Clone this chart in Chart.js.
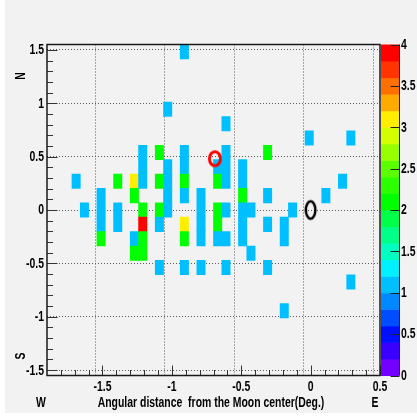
<!DOCTYPE html>
<html>
<head>
<meta charset="utf-8">
<script src="https://cdn.jsdelivr.net/npm/chart.js@4.4.1/dist/chart.umd.min.js"></script>
<style>
  html, body { margin: 0; padding: 0; background: #ffffff; }
  #moonChart { display: block; }
</style>
</head>
<body>
<canvas id="moonChart" width="417" height="416"></canvas>
<script>
// histogram binning (same as the TH2 it came from)
const xLow = -1.9, xUp = 0.5, nBinsX = 40;
const yLow = -1.55, yUp = 1.55, nBinsY = 23;

// filled bins: x bin number, y bin number (1-based) and content
const binX = [4, 5, 7, 7, 7, 7, 9, 9, 9, 11, 11, 11, 11,
    12, 12, 12, 12, 12, 12, 12, 14, 14, 14, 14, 14,
    15, 15, 15, 15, 15, 17, 17, 17, 17, 17, 17, 17, 17,
    19, 19, 19, 19, 19, 21, 21, 21, 21, 21,
    22, 22, 22, 22, 22, 22, 22, 24, 24, 24, 24, 24, 24,
    25, 25, 27, 27, 27, 27, 29, 29, 29, 30, 32, 34, 36, 37, 37];
const binY = [14, 12, 13, 12, 11, 10, 14, 12, 11, 14, 13, 10, 9,
    16, 15, 14, 12, 11, 10, 9, 16, 14, 12, 11, 8,
    19, 15, 14, 13, 12, 23, 16, 15, 14, 13, 11, 10, 8,
    13, 12, 11, 10, 8, 15, 14, 12, 11, 10,
    18, 16, 15, 14, 12, 10, 8, 15, 14, 13, 12, 11, 10,
    12, 9, 16, 13, 11, 8, 11, 10, 5, 12, 17, 13, 14, 17, 7];
const counts = [1, 1, 1, 1, 1, 2, 2, 1, 1, 3, 2, 1, 2,
    1, 1, 1, 2, 4, 2, 2, 2, 2, 2, 1, 1,
    1, 1, 1, 1, 1, 1, 1, 1, 2, 1, 3, 2, 1,
    1, 1, 1, 1, 1, 1, 2, 2, 2, 1,
    1, 1, 1, 1, 1, 1, 1, 1, 1, 2, 1, 1, 1,
    1, 1, 2, 1, 1, 1, 1, 1, 1, 1, 1, 1, 1, 1, 1];

// expected Moon position and observed shadow centre
const moonX = [0];
const moonY = [0];
const shadowX = [-0.69];
const shadowY = [0.48];

// colour palette, 20 contours from 0 to 4
const zMin = 0, zMax = 4;
const paletteColors = [
    '#7400ff', '#3a00ff', '#0010ff', '#004cff', '#0088ff',
    '#00bfff', '#00f0ff', '#00ffc0', '#00ff88', '#00ff48',
    '#00ff00', '#2cff00', '#5cff00', '#98ff00', '#d4ff00',
    '#ffee00', '#ffaa00', '#ff7000', '#ff3400', '#ff0000'
];
const zTicks = [0, 0.5, 1, 1.5, 2, 2.5, 3, 3.5, 4];

const xTitle = 'Angular distance  from the Moon center(Deg.)';

// narrow bold lettering, squeezed horizontally
const textFont = "bold 14px 'Liberation Sans', Arial, sans-serif";
const textSqueeze = 0.745;

function zColor(z) {
    const step = (zMax - zMin) / paletteColors.length;
    let k = Math.floor((z - zMin) / step + 1e-9);
    k = Math.max(0, Math.min(paletteColors.length - 1, k));
    return paletteColors[k];
}

function isMajor(v) {
    return Math.abs(v * 2 - Math.round(v * 2)) < 1e-6;
}

function tickLabel(v) {
    return String(Number(v.toFixed(1)));
}

function gridColor(c) {
    return c.tick && isMajor(c.tick.value) ? '#5a5a5a' : 'rgba(0,0,0,0)';
}

function tenths(from, to) {
    const out = [];
    for (let n = Math.round(from * 10); n <= Math.round(to * 10); n++) {
        out.push({ value: n / 10 });
    }
    return out;
}

function ringMarker(w, h, color, lineWidth) {
    const c = document.createElement('canvas');
    c.width = Math.ceil(w + lineWidth * 2);
    c.height = Math.ceil(h + lineWidth * 2);
    const g = c.getContext('2d');
    g.strokeStyle = color;
    g.lineWidth = lineWidth;
    g.beginPath();
    g.ellipse(c.width / 2, c.height / 2, (w - lineWidth) / 2, (h - lineWidth) / 2, 0, 0, Math.PI * 2);
    g.stroke();
    return c;
}

function drawText(ctx, text, x, y, align, angle) {
    ctx.save();
    ctx.translate(x, y);
    if (angle) ctx.rotate(angle);
    ctx.scale(textSqueeze, 1);
    ctx.font = textFont;
    ctx.fillStyle = '#000';
    ctx.textAlign = align;
    ctx.textBaseline = 'middle';
    ctx.fillText(text, 0, 0);
    ctx.restore();
}

const xBinWidth = (xUp - xLow) / nBinsX;
const yBinWidth = (yUp - yLow) / nBinsY;

const cells = binX.map((bx, k) => ({
    x: xLow + (bx - 0.5) * xBinWidth,
    y: [yLow + (binY[k] - 1) * yBinWidth, yLow + binY[k] * yBinWidth],
    z: counts[k]
}));

// canvas background, inner ticks, frame, palette and all lettering
const rootFrame = {
    id: 'rootFrame',
    beforeDraw(chart) {
        const ctx = chart.ctx;
        ctx.save();
        ctx.fillStyle = '#ffffff';
        ctx.fillRect(0, 0, chart.width, chart.height);
        ctx.fillStyle = '#f2f2f2';
        ctx.fillRect(5, 0, chart.width - 5, chart.height - 3);
        ctx.restore();
    },
    afterDraw(chart) {
        const ctx = chart.ctx;
        const area = chart.chartArea;
        const xs = chart.scales.x;
        const ys = chart.scales.y;
        const zs = chart.scales.z;

        ctx.save();

        // palette box
        const barLeft = area.right + 1;
        const barRight = area.right + 19.5;
        const step = (zMax - zMin) / paletteColors.length;
        paletteColors.forEach((col, k) => {
            const top = zs.getPixelForValue(zMin + (k + 1) * step);
            const bottom = zs.getPixelForValue(zMin + k * step);
            ctx.fillStyle = col;
            ctx.fillRect(barLeft, top, barRight - barLeft, bottom - top + 0.5);
        });
        ctx.strokeStyle = '#222';
        ctx.lineWidth = 1;
        ctx.beginPath();
        ctx.moveTo(barRight, area.top);
        ctx.lineTo(barRight, area.bottom);
        zTicks.forEach(v => {
            const py = Math.round(zs.getPixelForValue(v)) + 0.5;
            ctx.moveTo(barRight, py);
            ctx.lineTo(barRight - 9, py);
        });
        ctx.stroke();

        // tick marks inside the frame
        ctx.strokeStyle = '#333';
        ctx.lineWidth = 1;
        ctx.beginPath();
        xs.ticks.forEach(t => {
            const px = Math.round(xs.getPixelForValue(t.value)) + 0.5;
            ctx.moveTo(px, area.bottom);
            ctx.lineTo(px, area.bottom - (isMajor(t.value) ? 10 : 5.5));
        });
        ys.ticks.forEach(t => {
            const py = Math.round(ys.getPixelForValue(t.value)) + 0.5;
            ctx.moveTo(area.left, py);
            ctx.lineTo(area.left + (isMajor(t.value) ? 10.5 : 6), py);
        });
        ctx.stroke();

        // frame
        ctx.strokeStyle = '#1a1a1a';
        ctx.lineWidth = 1.5;
        ctx.strokeRect(area.left, area.top, area.right - area.left, area.bottom - area.top);

        // axis numbers
        xs.ticks.filter(t => isMajor(t.value)).forEach(t => {
            drawText(ctx, tickLabel(t.value), xs.getPixelForValue(t.value), area.bottom + 12, 'center');
        });
        ys.ticks.filter(t => isMajor(t.value)).forEach(t => {
            drawText(ctx, tickLabel(t.value), area.left - 3, ys.getPixelForValue(t.value) + 0.5, 'right');
        });
        zTicks.forEach(v => {
            drawText(ctx, tickLabel(v), barRight + 1.5, zs.getPixelForValue(v) + 0.5, 'left');
        });

        // axis title and compass letters
        drawText(ctx, xTitle, (area.left + area.right) / 2 - 2.5, 403, 'center');
        drawText(ctx, 'W', 41, 403, 'center');
        drawText(ctx, 'E', 375, 403, 'center');
        drawText(ctx, 'N', 21, 76, 'center', -Math.PI / 2);
        drawText(ctx, 'S', 21, 356, 'center', -Math.PI / 2);

        ctx.restore();
    }
};

new Chart('moonChart', {
    type: 'bar',
    data: {
        datasets: [
            {
                type: 'scatter',
                data: shadowX.map((x, i) => ({ x: x, y: shadowY[i] })),
                pointStyle: ringMarker(14, 17, '#ff0000', 3),
                yAxisID: 'y',
                order: 0
            },
            {
                type: 'scatter',
                data: moonX.map((x, i) => ({ x: x, y: moonY[i] })),
                pointStyle: ringMarker(12, 20, '#000000', 2.5),
                yAxisID: 'y',
                order: 0
            },
            {
                label: 'counts',
                data: cells,
                backgroundColor: ctx => zColor(ctx.raw.z),
                borderWidth: 0,
                categoryPercentage: 1,
                barPercentage: 1,
                grouped: false,
                yAxisID: 'y',
                order: 1
            }
        ]
    },
    options: {
        responsive: false,
        animation: false,
        events: [],
        layout: { padding: { top: 44.5, left: 0, right: 0, bottom: 0 } },
        plugins: {
            legend: { display: false },
            tooltip: { enabled: false }
        },
        scales: {
            x: {
                type: 'linear',
                offset: false,
                min: xLow,
                max: xUp,
                z: 1,
                afterFit: s => { s.height = 40.5; },
                afterBuildTicks: s => { s.ticks = tenths(-1.8, 0.5); },
                ticks: { display: false, autoSkip: false },
                grid: {
                    drawTicks: false,
                    lineWidth: 1,
                    color: gridColor
                },
                border: { display: false, dash: [1, 2] }
            },
            y: {
                type: 'linear',
                min: yLow,
                max: yUp,
                z: 1,
                afterFit: s => { s.width = 47; },
                afterBuildTicks: s => { s.ticks = tenths(-1.5, 1.5); },
                ticks: { display: false, autoSkip: false },
                grid: {
                    drawTicks: false,
                    lineWidth: 1,
                    color: gridColor
                },
                border: { display: false, dash: [1, 2] }
            },
            z: {
                type: 'linear',
                position: 'right',
                min: zMin,
                max: zMax,
                afterFit: s => { s.width = 37; },
                ticks: { display: false },
                grid: { display: false, drawOnChartArea: false, drawTicks: false },
                border: { display: false }
            }
        }
    },
    plugins: [rootFrame]
});
</script>
</body>
</html>
